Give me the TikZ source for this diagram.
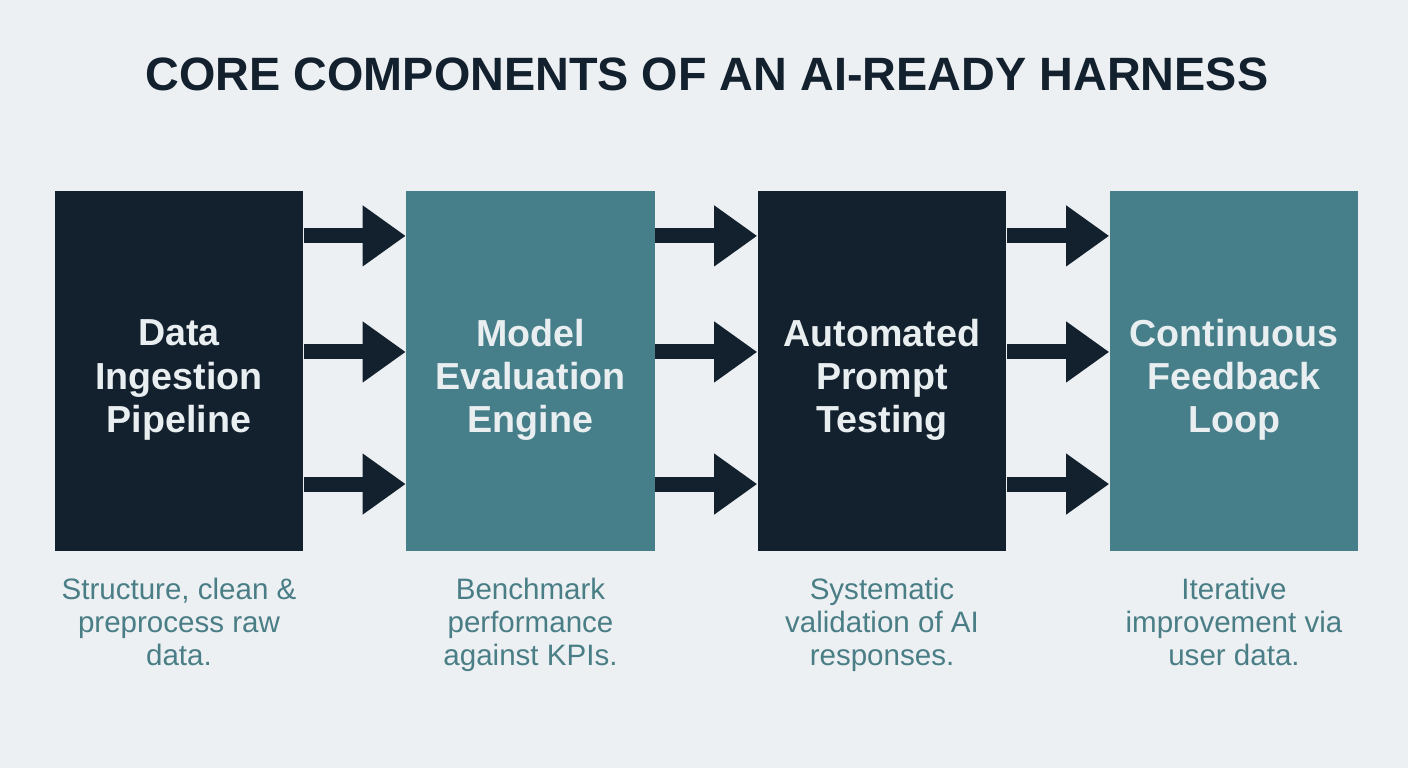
\documentclass[tikz,border=0pt]{standalone}
\usepackage{fontspec}
\setmainfont{Liberation Sans}
\usetikzlibrary{arrows.meta}
\definecolor{navy}{HTML}{13212F}
\definecolor{teal}{HTML}{467F8A}
\definecolor{bg}{HTML}{EDF0F2}
\definecolor{desc}{HTML}{4A7E86}
\definecolor{boxtext}{HTML}{E9EEF0}
\tikzset{
  comp/.style={minimum width=2.48cm, minimum height=3.6cm, inner sep=0pt},
  darkbox/.style={comp, fill=navy},
  tealbox/.style={comp, fill=teal},
  comptext/.style={align=center, inner sep=0pt, text=boxtext,
    font=\bfseries\fontsize{10.7}{12.3}\selectfont},
  desctext/.style={align=center, text=desc, anchor=north, inner sep=0pt,
    font=\fontsize{8.4}{9.4}\selectfont},
  flow/.style={draw=navy, line width=0.15cm, -{Triangle[length=0.43cm, width=0.58cm]}},
}
\begin{document}
\begin{tikzpicture}[x=0.01cm, y=-0.01cm]
\fill[bg] (0,0) rectangle (1408,768);
\useasboundingbox (0,0) rectangle (1408,768);
\node[font=\bfseries\fontsize{13.3}{16}\selectfont, text=navy] (title) at (707,74) {CORE COMPONENTS OF AN AI-READY HARNESS};

\node[darkbox] (b1) at (179,371) {};
\node[tealbox] (b2) at (530.5,371) {};
\node[darkbox] (b3) at (882,371) {};
\node[tealbox] (b4) at (1234,371) {};

\node[comptext] (t1) at ([yshift=-0.09cm]b1.center) {Data\\Ingestion\\Pipeline};
\node[comptext] (t2) at ([yshift=-0.09cm]b2.center) {Model\\Evaluation\\Engine};
\node[comptext] (t3) at ([yshift=-0.09cm]b3.center) {Automated\\Prompt\\Testing};
\node[comptext] (t4) at ([yshift=-0.09cm]b4.center) {Continuous\\Feedback\\Loop};

\foreach \a/\b in {b1/b2, b2/b3, b3/b4}{
  \draw[flow] ([yshift=1.35cm]\a.east) -- ([yshift=1.35cm]\b.west);
  \draw[flow] ([yshift=0.19cm]\a.east) -- ([yshift=0.19cm]\b.west);
  \draw[flow] ([yshift=-1.13cm]\a.east) -- ([yshift=-1.13cm]\b.west);
}

\node[desctext] (d1) at (179,577) {Structure, clean \&\\preprocess raw\\data.};
\node[desctext] (d2) at (530.5,577) {Benchmark\\performance\\against KPIs.};
\node[desctext] (d3) at (882,577) {Systematic\\validation of AI\\responses.};
\node[desctext] (d4) at (1234,577) {Iterative\\improvement via\\user data.};
\end{tikzpicture}
\end{document}
